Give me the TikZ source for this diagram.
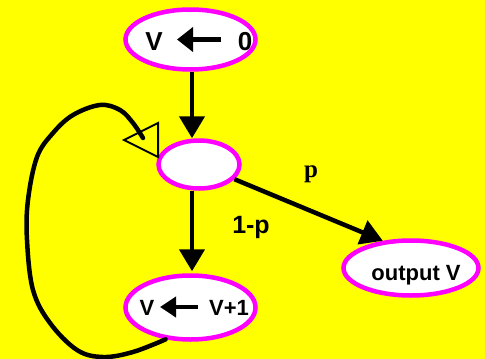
\documentclass[tikz,border=0pt]{standalone}
\usepackage{fontspec}
\setmainfont{Liberation Sans}
\newfontfamily\serifbold{Liberation Serif}
\usetikzlibrary{shapes.geometric,arrows.meta}
\definecolor{bgyellow}{RGB}{255,255,0}
\definecolor{rim}{RGB}{255,0,255}
\tikzset{
  state/.style={ellipse, draw=rim, fill=white, line width=4.5pt, inner sep=0pt},
  edge/.style={line width=4.5pt, -{Triangle[length=22pt,width=25pt]}},
  assign/.style={line width=5.5pt, -{Triangle[length=16pt,width=24pt]}},
  lbl/.style={inner sep=0pt, anchor=base, font=\bfseries},
}
\begin{document}
\begin{tikzpicture}[x=1pt, y=-1pt]
  \fill[bgyellow] (0,0) rectangle (485,359);
  \useasboundingbox (0,0) rectangle (485,359);

  % states
  \node[state, minimum width=130pt, minimum height=60pt] (init) at (190.5,39.5) {};
  \node[state, minimum width=81pt, minimum height=48pt] (mid) at (199,164.5) {};
  \node[state, minimum width=130pt, minimum height=64pt] (inc) at (190.5,307.5) {};
  \node[state, minimum width=135pt, minimum height=55pt] (out) at (411,268) {};

  % contents of the states
  \node[lbl, font=\fontsize{26}{30}\bfseries\selectfont] (v0) at (154,50) {V};
  \node[lbl, font=\fontsize{26}{30}\bfseries\selectfont] (zero) at (245,50) {0};
  \coordinate (a0s) at (221,39.5);
  \coordinate (a0e) at (177,39.5);
  \draw[assign] (a0s) -- (a0e);

  \node[lbl, font=\fontsize{22}{26}\bfseries\selectfont] (v1) at (147,315) {V};
  \node[lbl, font=\fontsize{22}{26}\bfseries\selectfont] (vp) at (229,315) {V+1};
  \coordinate (a1s) at (198,307);
  \coordinate (a1e) at (160,307);
  \draw[line width=4.5pt, -{Triangle[length=16pt,width=20pt]}] (a1s) -- (a1e);

  \node[lbl, font=\fontsize{22}{26}\bfseries\selectfont] (outl) at (416,280) {output V};

  % transitions
  \coordinate (vx) at (192,0);
  \draw[edge] (init.south -| vx) -- (mid.north -| vx);
  \draw[edge] (mid.south -| vx) -- ([yshift=2pt]inc.north -| vx);
  \draw[edge] (mid) -- (out.136);

  % transition labels
  \node[lbl, font=\fontsize{25}{30}\serifbold\bfseries\selectfont] (pl) at (311,177) {p};
  \node[lbl, font=\fontsize{25}{30}\bfseries\selectfont] (ql) at (251,233) {1-p};

  % feedback loop back to the branching state
  \coordinate (tip) at (124,140);
  \coordinate (tb1) at (158,123);
  \coordinate (tb2) at (158,157);
  \draw[line width=4.5pt, line cap=round] plot[smooth, tension=0.6] coordinates {
    (inc.232) (133,352) (103,357) (77,350) (50,323) (33,290) (27,240)
    (28,200) (37,157) (53,133) (73,115) (100,105) (120,110) (133,123) (143,138)};
  \draw[line width=2pt, line join=miter] (tip) -- (tb1) -- (tb2) -- cycle;
\end{tikzpicture}
\end{document}
